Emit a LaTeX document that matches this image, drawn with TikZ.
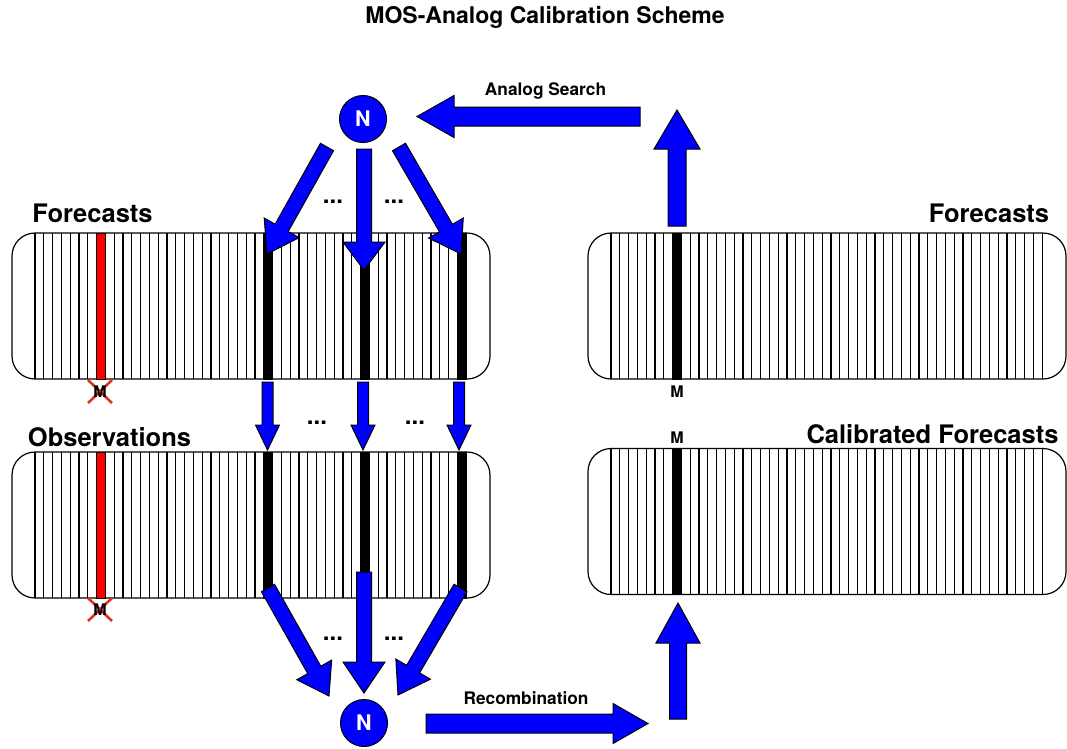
\documentclass[tikz,border=0pt]{standalone}
\usepackage{fontspec}
\setmainfont{TeX Gyre Heros}
\usepackage{xcolor}
\usepackage{tikz}
\usetikzlibrary{calc}

\definecolor{xred}{RGB}{214,52,36}

% fat block arrow: from, to, shaft half width, head half width, head length
\newcommand{\fatarrow}[5]{%
	\coordinate (fa-head) at ($(#2)!#5!(#1)$);
	\filldraw[fat] ($(#1)!#3!90:(#2)$) -- ($(fa-head)!#3!90:(#2)$) -- ($(fa-head)!#4!90:(#2)$) -- (#2)
		-- ($(fa-head)!#4!-90:(#2)$) -- ($(fa-head)!#3!-90:(#2)$) -- ($(#1)!#3!-90:(#2)$) -- cycle;
}
% time stripes of one block
\newcommand{\stripes}[1]{%
	\foreach \i in {0,...,49}
		\draw[stripe] ([xshift=23pt+\i*8.8pt]#1.north west) -- ([xshift=23pt+\i*8.8pt]#1.south west);
}
% one highlighted stripe: block, index, colour
\newcommand{\hicell}[3]{%
	\filldraw[draw=black, fill=#3, line width=0.8pt] ([xshift=23pt+#2*8.8pt]#1.north west) rectangle ([xshift=31.8pt+#2*8.8pt]#1.south west);
}

\begin{document}
\begin{tikzpicture}[x=1pt, y=-1pt]
				\tikzset{
					block/.style={draw, line width=1.2pt, rounded corners=23pt, minimum width=478pt, minimum height=146pt, inner sep=0pt, outer sep=0pt},
					stripe/.style={draw=black, line width=1.05pt},
					fat/.style={draw=black, fill=blue, line width=1pt},
					numnode/.style={circle, draw=black, fill=blue, line width=1pt, minimum size=47pt, inner sep=0pt, text=white, font=\fontsize{21.5}{23}\selectfont\bfseries},
					lbl/.style={font=\fontsize{25.5}{28}\selectfont\bfseries, inner sep=0pt},
					steplbl/.style={font=\fontsize{17.3}{19}\selectfont\bfseries, inner sep=0pt},
					mlbl/.style={font=\fontsize{16}{18}\selectfont\bfseries, inner sep=0pt},
					dots/.style={font=\fontsize{24}{26}\selectfont\bfseries, inner sep=0pt},
					xmark/.style={draw=xred, line width=2.6pt}
				}
				\useasboundingbox (0,0) rectangle (1067,748);
				
				\node[font=\fontsize{23}{25}\selectfont\bfseries, inner sep=0pt] (title) at (545,17) {MOS-Analog Calibration Scheme};
				
				% ---- Left: forecasts and observations ----
				\node[block] (fcst) at (251,306) {};
				\node[block] (obs) at (251,525) {};
				\stripes{fcst}
				\stripes{obs}
				\hicell{fcst}{7}{red}
				\hicell{obs}{7}{red}
				\foreach \k in {26,37,48} {
					\hicell{fcst}{\k}{black}
					\hicell{obs}{\k}{black}
				}
				\node[lbl] (fcstlbl) at (92.5,213) {Forecasts};
				\node[lbl] (obslbl) at (109.5,437) {Observations};
				
				\draw[xmark] (88,380) -- (112,403);
				\draw[xmark] (88,403) -- (112,380);
				\node[mlbl] (mf) at (100,392) {M};
				\draw[xmark] (88,598) -- (112,621);
				\draw[xmark] (88,621) -- (112,598);
				\node[mlbl] (mo) at (100,610) {M};
				
				% ---- Right: forecasts and calibrated forecasts ----
				\node[block] (rfcst) at (827,306) {};
				\node[block] (calib) at (827,521.5) {};
				\stripes{rfcst}
				\stripes{calib}
				\hicell{rfcst}{7}{black}
				\hicell{calib}{7}{black}
				\node[lbl] (rfcstlbl) at (989,213) {Forecasts};
				\node[lbl] (caliblbl) at (932.5,434) {Calibrated Forecasts};
				\node[mlbl] (mr) at (677,392) {M};
				\node[mlbl] (mc) at (677,438) {M};
				
				% ---- Analogs ----
				\node[numnode] (ntop) at (363,119) {N};
				\node[numnode] (nbot) at (364,723) {N};
				
				\coordinate (t1) at (327,147);  \coordinate (t1e) at (267,254);
				\coordinate (t2) at (364,149);  \coordinate (t2e) at (364,270);
				\coordinate (t3) at (399,147);  \coordinate (t3e) at (461,254);
				\fatarrow{t1}{t1e}{7.5pt}{20pt}{30pt}
				\fatarrow{t2}{t2e}{7.5pt}{21pt}{28pt}
				\fatarrow{t3}{t3e}{7.5pt}{20pt}{30pt}
				
				\coordinate (m1) at (267.5,382);  \coordinate (m1e) at (267.5,450);
				\coordinate (m2) at (363,382);  \coordinate (m2e) at (363,450);
				\coordinate (m3) at (459,382);  \coordinate (m3e) at (459,450);
				\fatarrow{m1}{m1e}{5.5pt}{12pt}{25pt}
				\fatarrow{m2}{m2e}{5.5pt}{12pt}{25pt}
				\fatarrow{m3}{m3e}{5.5pt}{12pt}{25pt}
				
				\coordinate (b1) at (268,588);  \coordinate (b1e) at (329,696);
				\coordinate (b2) at (364,572);  \coordinate (b2e) at (364,693);
				\coordinate (b3) at (460.5,588);  \coordinate (b3e) at (398,695);
				\fatarrow{b1}{b1e}{7.5pt}{20pt}{30pt}
				\fatarrow{b2}{b2e}{7.5pt}{21pt}{31pt}
				\fatarrow{b3}{b3e}{7.5pt}{20pt}{30pt}
				
				\node[dots] (d1) at (333,202) {...};
				\node[dots] (d2) at (394,202) {...};
				\node[dots] (d3) at (317,423) {...};
				\node[dots] (d4) at (415,423) {...};
				\node[dots] (d5) at (333,639) {...};
				\node[dots] (d6) at (394,639) {...};
				
				% ---- Search and recombination ----
				\coordinate (s1) at (640,116.5);  \coordinate (s1e) at (417,116.5);
				\fatarrow{s1}{s1e}{9.5pt}{21pt}{37pt}
				\node[steplbl] (searchlbl) at (545.5,91) {Analog Search};
				
				\coordinate (u1) at (677,226);  \coordinate (u1e) at (677,110);
				\fatarrow{u1}{u1e}{9pt}{23pt}{39pt}
				
				\coordinate (r1) at (426,723.5);  \coordinate (r1e) at (648,723.5);
				\fatarrow{r1}{r1e}{9.5pt}{20pt}{35pt}
				\node[steplbl] (recomblbl) at (526,698) {Recombination};
				
				\coordinate (u2) at (678,719);  \coordinate (u2e) at (678,603);
				\fatarrow{u2}{u2e}{8.5pt}{22pt}{40pt}
			\end{tikzpicture}
\end{document}
